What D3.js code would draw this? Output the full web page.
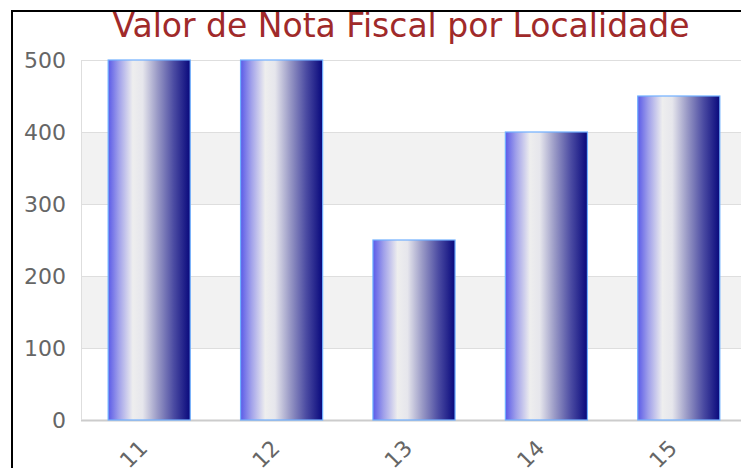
<!DOCTYPE html>
<html>
<head>
<meta charset="utf-8">
<script src="https://cdn.jsdelivr.net/npm/d3@7"></script>
<style>
  body { margin: 0; background: #fff; }
  svg { display: block; }
</style>
</head>
<body>
<div id="chart"></div>
<script>
// data
const categories = ["11", "12", "13", "14", "15"];
const values = [500, 500, 250, 400, 450];
const yTicks = [0, 100, 200, 300, 400, 500];
const title = "Valor de Nota Fiscal por Localidade";

const width = 741, height = 468;
const plot = { left: 81, right: 741, top: 60, bottom: 420 };

const svg = d3.select("#chart").append("svg")
    .attr("width", width)
    .attr("height", height);

// gradient for the bars
const grad = svg.append("defs").append("linearGradient")
    .attr("id", "barGrad")
    .attr("x1", 0).attr("x2", 1).attr("y1", 0).attr("y2", 0);
[
    [0, "#5a5ae8"], [0.13, "#a0a0ea"], [0.3, "#eeeeee"], [0.42, "#e6e6ec"],
    [0.6, "#9a9ac6"], [0.8, "#4b4ba2"], [1, "#08087c"]
].forEach(([o, c]) => grad.append("stop").attr("offset", o).attr("stop-color", c));

// scales
const x = d3.scaleBand()
    .domain(categories)
    .range([83, 745])
    .paddingInner(0.38)
    .paddingOuter(0.19);

const y = d3.scaleLinear()
    .domain([0, 500])
    .range([plot.bottom, plot.top]);

// alternating bands
const bandPairs = d3.pairs(yTicks);
svg.append("g").selectAll("rect")
    .data(bandPairs)
    .join("rect")
    .attr("x", plot.left)
    .attr("y", d => y(d[1]))
    .attr("width", plot.right - plot.left)
    .attr("height", d => y(d[0]) - y(d[1]))
    .attr("fill", (d, i) => i % 2 === 1 ? "#f2f2f2" : "#ffffff");

// grid lines
svg.append("g").selectAll("line")
    .data(yTicks)
    .join("line")
    .attr("x1", plot.left).attr("x2", plot.right)
    .attr("y1", d => y(d) + 0.5).attr("y2", d => y(d) + 0.5)
    .attr("stroke", d => d === 0 ? "#cccccc" : "#dedede")
    .attr("stroke-width", d => d === 0 ? 2 : 1);

svg.append("line")
    .attr("x1", plot.left + 0.5).attr("x2", plot.left + 0.5)
    .attr("y1", plot.top).attr("y2", plot.bottom)
    .attr("stroke", "#dedede");

// y labels
svg.append("g").selectAll("text")
    .data(yTicks)
    .join("text")
    .attr("x", 66)
    .attr("y", d => y(d))
    .attr("dy", "0.36em")
    .attr("text-anchor", "end")
    .attr("font-family", "DejaVu Sans, Verdana, sans-serif")
    .attr("font-size", 22)
    .attr("fill", "#666")
    .text(d => d);

// bars
svg.append("g").selectAll("rect")
    .data(values)
    .join("rect")
    .attr("x", (d, i) => x(categories[i]))
    .attr("y", d => y(d))
    .attr("width", x.bandwidth())
    .attr("height", d => y(0) - y(d))
    .attr("fill", "url(#barGrad)")
    .attr("stroke", "#70b0ff")
    .attr("stroke-width", 1.2);

// x labels
svg.append("g").selectAll("text")
    .data(categories)
    .join("text")
    .attr("transform", d => `translate(${x(d) + x.bandwidth() / 2 - 6},${plot.bottom + 24}) rotate(-45)`)
    .attr("text-anchor", "end")
    .attr("dy", "0.36em")
    .attr("font-family", "DejaVu Sans, Verdana, sans-serif")
    .attr("font-size", 22)
    .attr("fill", "#666")
    .text(d => d);

// title
svg.append("text")
    .attr("x", 401)
    .attr("y", 37)
    .attr("text-anchor", "middle")
    .attr("font-family", "DejaVu Sans, Verdana, sans-serif")
    .attr("font-size", 33)
    .attr("fill", "#a02a2a")
    .text(title);

// frame
svg.append("rect")
    .attr("x", 12).attr("y", 11)
    .attr("width", 800).attr("height", 500)
    .attr("fill", "none")
    .attr("stroke", "#000")
    .attr("stroke-width", 2);
</script>
</body>
</html>
